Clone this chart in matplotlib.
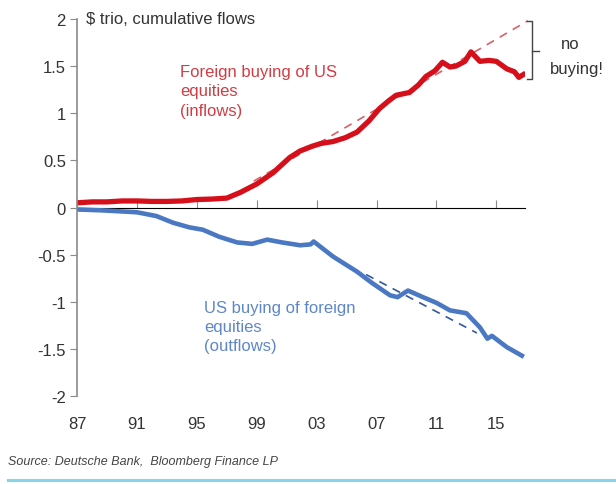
import numpy as np
import matplotlib
matplotlib.use("Agg")
import matplotlib.pyplot as plt

plt.rcParams['font.family'] = ['Liberation Sans', 'DejaVu Sans']
plt.rcParams['axes.unicode_minus'] = False

# cumulative equity flows, $ trillion
red_years = [1987, 1988, 1989, 1990, 1991, 1992, 1993, 1994, 1995, 1996, 1997,
             1997.9, 1999, 2000.1, 2001.2, 2001.9, 2002.7, 2003.3, 2004.1, 2004.9,
             2005.7, 2006.5, 2007.2, 2007.8, 2008.3, 2009.2, 2009.8, 2010.3, 2010.9,
             2011.4, 2011.9, 2012.3, 2012.9, 2013.3, 2013.9, 2014.5, 2015.0, 2015.7,
             2016.2, 2016.5, 2016.8]
red_vals = [0.05, 0.06, 0.06, 0.07, 0.07, 0.065, 0.065, 0.07, 0.085, 0.09, 0.10,
            0.16, 0.25, 0.37, 0.53, 0.60, 0.65, 0.68, 0.70, 0.74,
            0.80, 0.92, 1.05, 1.13, 1.19, 1.22, 1.30, 1.39, 1.45,
            1.54, 1.49, 1.50, 1.55, 1.65, 1.55, 1.56, 1.55, 1.47,
            1.44, 1.38, 1.41]

blue_years = [1987, 1988.7, 1991, 1992.3, 1993.4, 1994.5, 1995.4, 1996.5, 1997.7,
              1998.7, 1999.7, 2000.7, 2001.9, 2002.6, 2002.8, 2004.1, 2005.7, 2006.7,
              2007.9, 2008.4, 2009.1, 2010.1, 2011, 2011.9, 2013, 2013.9, 2014.4,
              2014.7, 2015.7, 2016.7]
blue_vals = [-0.02, -0.03, -0.05, -0.09, -0.16, -0.21, -0.235, -0.31, -0.37,
             -0.385, -0.34, -0.37, -0.40, -0.39, -0.36, -0.52, -0.68, -0.80,
             -0.93, -0.95, -0.88, -0.95, -1.01, -1.09, -1.12, -1.27, -1.39,
             -1.36, -1.48, -1.57]

# trend lines
red_trend_years = [1998.8, 2017.1]
red_trend_vals = [0.28, 1.98]
blue_trend_years = [2006.3, 2013.7]
blue_trend_vals = [-0.71, -1.33]

tick_years = [1987, 1991, 1995, 1999, 2003, 2007, 2011, 2015]
tick_labels = ['87', '91', '95', '99', '03', '07', '11', '15']
y_ticks = [-2, -1.5, -1, -0.5, 0, 0.5, 1, 1.5, 2]

red = '#d6101a'
blue = '#4a78c2'
grey = '#8a8a8a'

fig = plt.figure(figsize=(6.16, 4.85), dpi=100)
ax = fig.add_axes([0.125, 0.181, 0.727, 0.778])

ax.plot(red_trend_years, red_trend_vals, color='#d9606a', lw=1.2, ls=(0, (5, 4)), clip_on=False)
ax.plot(blue_trend_years, blue_trend_vals, color='#35589a', lw=1.2, ls=(0, (5, 4)))
ax.plot(red_years, red_vals, color=red, lw=3.8, solid_joinstyle='round')
ax.plot(blue_years, blue_vals, color=blue, lw=3.3, solid_joinstyle='round')

ax.set_xlim(1987, 2016.9)
ax.set_ylim(-2, 2)

# y axis
ax.set_yticks(y_ticks)
ax.set_yticklabels(['%g' % v for v in y_ticks])
ax.tick_params(axis='y', direction='out', length=5, color=grey, labelsize=12,
               labelcolor='#333333', pad=3)
for s in ['top', 'right', 'bottom']:
    ax.spines[s].set_visible(False)
ax.spines['left'].set_color(grey)
ax.spines['left'].set_linewidth(1.2)

# year labels along the bottom, tick marks on the zero line
ax.set_xticks(tick_years)
ax.set_xticklabels(tick_labels)
ax.tick_params(axis='x', length=0, labelsize=12, labelcolor='#333333', pad=14)
zero_axis = ax.secondary_xaxis(0.5)
zero_axis.set_xticks(tick_years)
zero_axis.tick_params(axis='x', direction='out', length=6, color=grey, labelbottom=False)
zero_axis.spines['bottom'].set_color(grey)
zero_axis.spines['bottom'].set_linewidth(1.2)
zero_axis.set_xticklabels([])

ax.text(1987.6, 2, '$ trio, cumulative flows', fontsize=12, color='#333333',
        va='center', ha='left', clip_on=False)

ax.text(1993.9, 1.52, 'Foreign buying of US\nequities\n(inflows)', fontsize=12,
        color='#d23c44', va='top', ha='left', linespacing=1.35)
ax.text(1995.5, -0.98, 'US buying of foreign\nequities\n(outflows)', fontsize=12,
        color='#5f86c8', va='top', ha='left', linespacing=1.35)

# bracket showing the gap to trend
bx = 2017.4
ax.plot([2017.05, bx, bx, 2017.05], [1.98, 1.98, 1.36, 1.36], color='#444444',
        lw=1, clip_on=False)
ax.plot([bx, 2017.85], [1.66, 1.66], color='#444444', lw=1, clip_on=False)
ax.text(2019.9, 1.74, 'no', fontsize=12, color='#333333', ha='center', va='center')
ax.text(2020.4, 1.47, 'buying!', fontsize=12, color='#333333', ha='center', va='center')

fig.text(0.013, 0.047, 'Source: Deutsche Bank,  Bloomberg Finance LP', fontsize=9,
         style='italic', color='#444444', va='center', ha='left')
fig.add_artist(plt.Line2D([0.013, 1.0], [0.008, 0.008], color='#86d3ea', lw=2.2))

fig.savefig('out.png', dpi=100)
